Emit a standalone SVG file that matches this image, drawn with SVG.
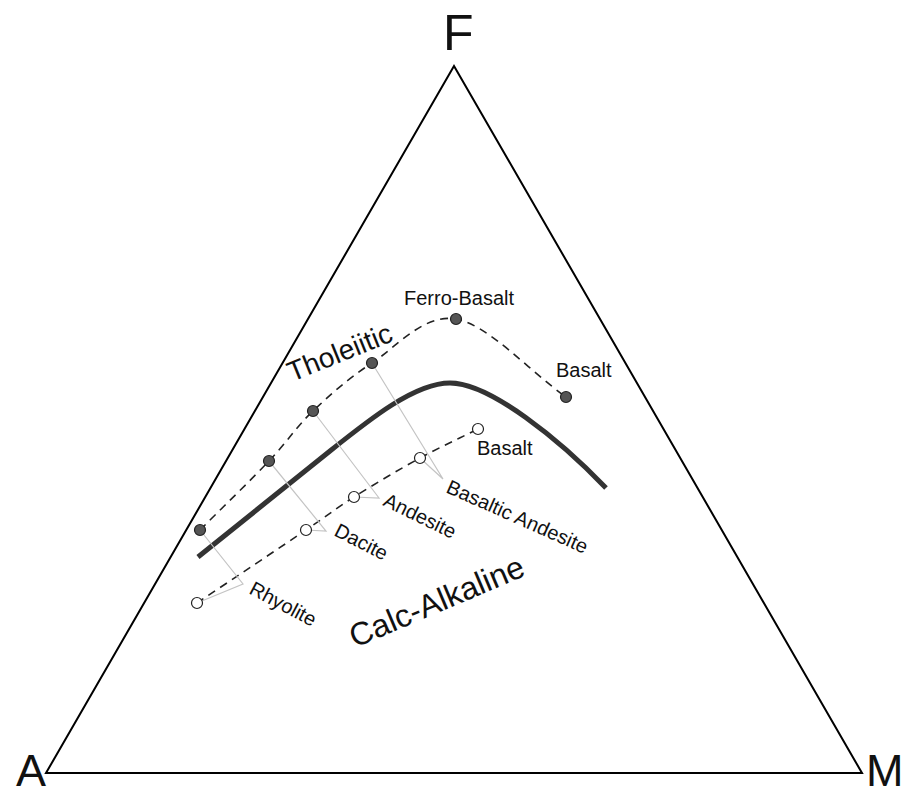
<svg xmlns="http://www.w3.org/2000/svg" width="912" height="796" viewBox="0 0 912 796">
<style>
  .t{font-family:"Liberation Sans",Arial,sans-serif;fill:#111}
  .big{font-size:50px}
  .corner{font-size:45px}
  .lbl{font-size:20px}
  .tie{fill:none;stroke:#c4c4c4;stroke-width:1.2}
  .dash{fill:none;stroke:#222;stroke-width:1.6;stroke-dasharray:8 6}
  .full{fill:#555;stroke:#222;stroke-width:1.2}
  .open{fill:#fff;stroke:#222;stroke-width:1.2}
</style>
<rect width="912" height="796" fill="#fff"/>
<g id="triangle">
  <polygon points="454,66 46,773 862,773" fill="none" stroke="#000" stroke-width="2"/>
  <text class="t big" x="443" y="50">F</text>
  <text class="t corner" x="46" y="786" text-anchor="end">A</text>
  <text class="t corner" x="866" y="786">M</text>
</g>
<g id="boundary">
  <path d="M198,557 L330,451 C370,419 415,383 450,383 C490,383 560,440 606,488" fill="none" stroke="#333" stroke-width="5" stroke-linecap="butt"/>
</g>
<g id="connectors">
  <path class="dash" d="M200,530 C223,507 250.2,480.8 269,461 C287.8,441.2 295.8,427.3 313,411 C330.2,394.7 348.2,378.3 372,363 C395.8,347.7 423.7,313.3 456,319 C488.3,324.7 529.3,371 566,397"/>
  <path class="dash" d="M197,603 C233.3,578.7 279.8,547.7 306,530 C332.2,512.3 335,509 354,497 C373,485 399.3,469.3 420,458 C440.7,446.7 458.7,438.7 478,429"/>
  <polyline class="tie" points="200,530 243,584 197,603"/>
  <polyline class="tie" points="269,461 326,531 306,530"/>
  <polyline class="tie" points="313,411 379,498 354,497"/>
  <polyline class="tie" points="372,363 443,479 420,458"/>
</g>
<g id="tholeiitic">
  <circle class="full" cx="200" cy="530" r="5.5"/>
  <circle class="full" cx="269" cy="461" r="5.5"/>
  <circle class="full" cx="313" cy="411" r="5.5"/>
  <circle class="full" cx="372" cy="363" r="5.5"/>
  <circle class="full" cx="456" cy="319" r="5.5"/>
  <circle class="full" cx="566" cy="397" r="5.5"/>
  <text class="t" font-size="28" transform="translate(292,382) rotate(-22)">Tholeiitic</text>
  <text class="t lbl" x="404" y="305">Ferro-Basalt</text>
  <text class="t lbl" x="556" y="377">Basalt</text>
</g>
<g id="calc-alkaline">
  <circle class="open" cx="197" cy="603" r="5.5"/>
  <circle class="open" cx="306" cy="530" r="5.5"/>
  <circle class="open" cx="354" cy="497" r="5.5"/>
  <circle class="open" cx="420" cy="458" r="5.5"/>
  <circle class="open" cx="478" cy="429" r="5.5"/>
  <text class="t" font-size="32" transform="translate(355,648) rotate(-23)">Calc-Alkaline</text>
  <text class="t lbl" x="477" y="455">Basalt</text>
  <text class="t lbl" transform="translate(248,593) rotate(28)">Rhyolite</text>
  <text class="t lbl" transform="translate(333,535) rotate(27)">Dacite</text>
  <text class="t lbl" transform="translate(382,505) rotate(26)">Andesite</text>
  <text class="t lbl" transform="translate(445,492) rotate(24)">Basaltic Andesite</text>
</g>
</svg>
